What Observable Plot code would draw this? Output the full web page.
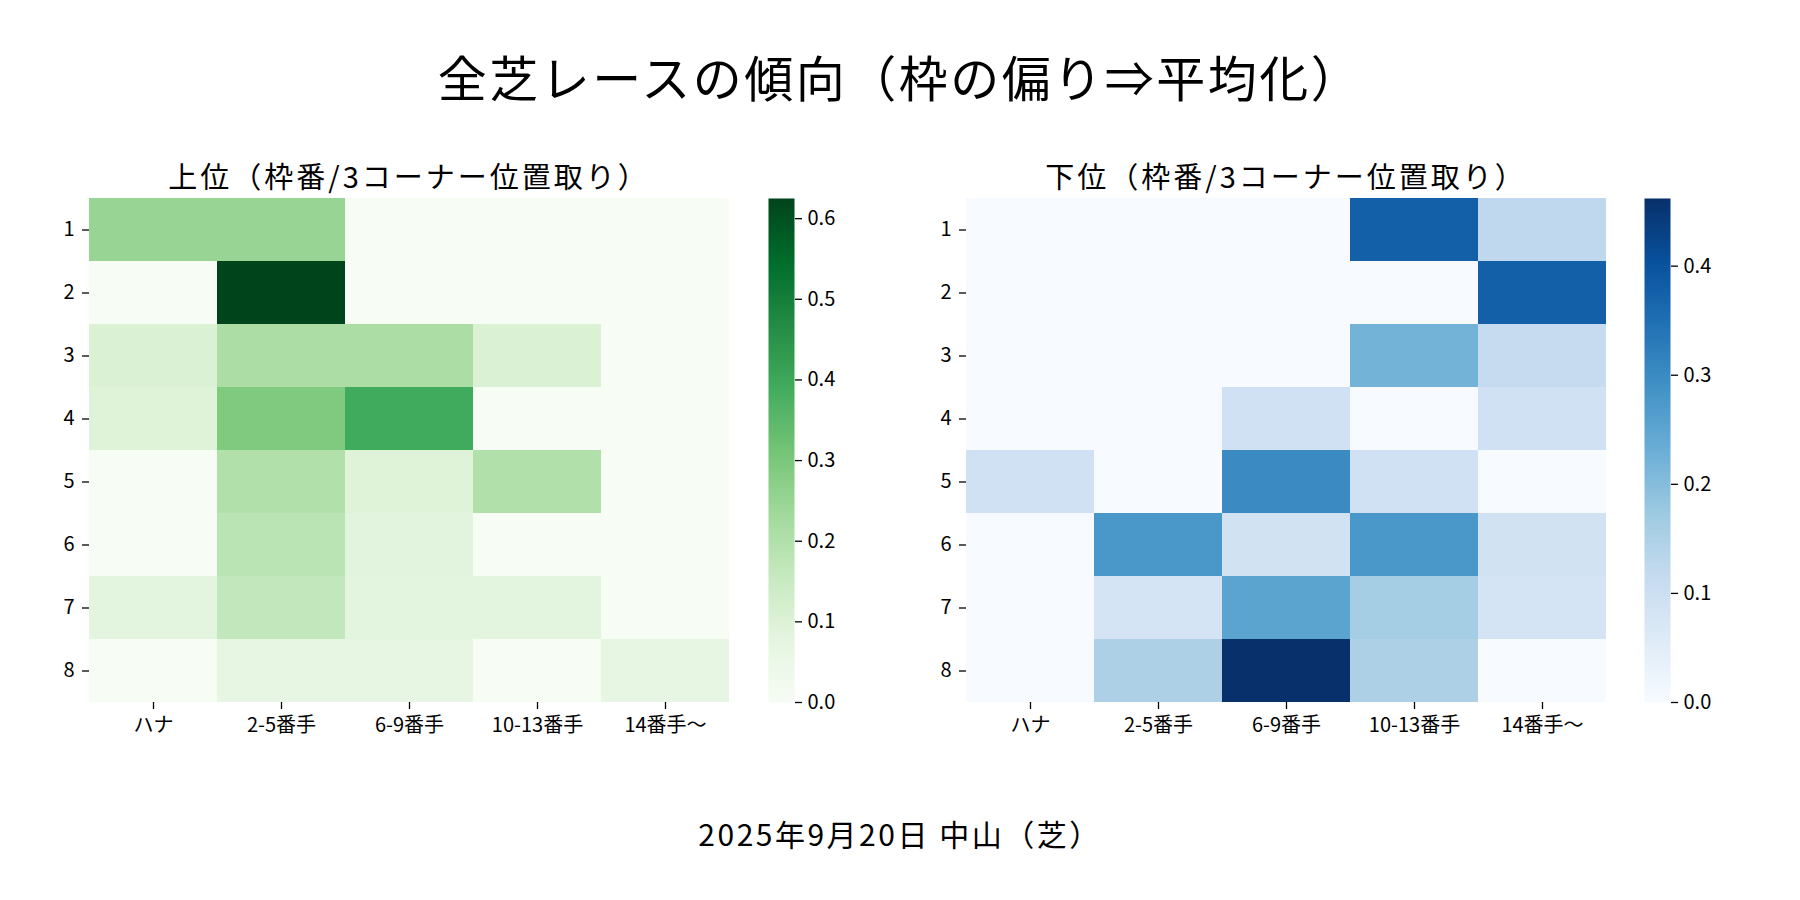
<!DOCTYPE html>
<html><head><meta charset="utf-8">
<script src="https://cdn.jsdelivr.net/npm/d3@7"></script>
<script src="https://cdn.jsdelivr.net/npm/@observablehq/plot@0.6"></script>
<style>
body{margin:0;background:#fff;font-family:"Noto Sans CJK JP",sans-serif;}
#root{position:relative;width:1800px;height:900px;overflow:hidden;background:#fff;}
.abs{position:absolute;}
.t{position:absolute;white-space:nowrap;transform:translate(-50%,-50%);color:#000;line-height:1;}
</style></head><body><div id="root"></div>
<script>
// ---- data ----
const positions = ["ハナ", "2-5番手", "6-9番手", "10-13番手", "14番手～"];
const wakus = [1, 2, 3, 4, 5, 6, 7, 8];
const topValues = [
  [0.25, 0.25, 0, 0, 0],
  [0, 0.625, 0, 0, 0],
  [0.107, 0.214, 0.214, 0.107, 0],
  [0.094, 0.292, 0.39, 0, 0],
  [0, 0.2, 0.094, 0.2, 0],
  [0, 0.183, 0.083, 0, 0],
  [0.08, 0.164, 0.08, 0.08, 0],
  [0, 0.07, 0.07, 0, 0.07]
];
const bottomValues = [
  [0, 0, 0, 0.377, 0.125],
  [0, 0, 0, 0, 0.377],
  [0, 0, 0, 0.221, 0.115],
  [0, 0, 0.094, 0, 0.094],
  [0.094, 0, 0.301, 0.094, 0],
  [0, 0.277, 0.09, 0.277, 0.09],
  [0, 0.082, 0.252, 0.163, 0.082],
  [0, 0.152, 0.462, 0.152, 0]
];
const topMax = 0.625;
const bottomMax = 0.462;
const topTicks = [0, 0.1, 0.2, 0.3, 0.4, 0.5, 0.6];
const bottomTicks = [0, 0.1, 0.2, 0.3, 0.4];
const mainTitle = "全芝レースの傾向（枠の偏り⇒平均化）";
const topTitle = "上位（枠番/3コーナー位置取り）";
const bottomTitle = "下位（枠番/3コーナー位置取り）";
const caption = "2025年9月20日 中山（芝）";

// ---- palettes (matplotlib Greens / Blues) ----
const greens = ["#f7fcf5","#e5f5e0","#c7e9c0","#a1d99b","#74c476","#41ab5d","#238b45","#006d2c","#00441b"];
const blues = ["#f7fbff","#deebf7","#c6dbef","#9ecae1","#6baed6","#4292c6","#2171b5","#08519c","#08306b"];

const FONT = '"Noto Sans CJK JP", "Noto Sans", sans-serif';
const root = document.getElementById("root");

function colorScale(range, max) {
  return {type: "linear", domain: range.map((_, i) => i / (range.length - 1) * max), range, interpolate: "rgb"};
}

function heat(values, range, max) {
  const data = wakus.flatMap((w, i) => positions.map((p, j) => ({waku: w, pos: p, value: values[i][j]})));
  return Plot.plot({
    width: 749, height: 620,
    marginLeft: 89, marginRight: 20, marginTop: 48, marginBottom: 68,
    x: {domain: positions, padding: 0, label: null},
    y: {domain: wakus, padding: 0, label: null},
    color: colorScale(range, max),
    style: {fontFamily: FONT, fontSize: "20px", color: "#000", background: "transparent"},
    marks: [
      Plot.cell(data, {x: "pos", y: "waku", fill: "value", inset: 0}),
      Plot.axisX({tickSize: 7, tickPadding: 8, strokeWidth: 1.3, fontSize: 20, label: null}),
      Plot.axisY({tickSize: 7, tickPadding: 8, strokeWidth: 1.3, fontSize: 20, label: null})
    ]
  });
}

function bar(range, max, ticks) {
  return Plot.plot({
    width: 100, height: 544,
    marginLeft: 0, marginRight: 74, marginTop: 20, marginBottom: 20,
    x: {domain: [0, 1], axis: null},
    y: {domain: [0, max], axis: null},
    color: colorScale(range, max),
    style: {fontFamily: FONT, fontSize: "20px", color: "#000", background: "transparent"},
    marks: [
      Plot.raster({fill: (x, y) => y, x1: 0, x2: 1, y1: 0, y2: max, width: 1, height: 400}),
      Plot.axisY({anchor: "right", ticks, tickFormat: ".1f", tickSize: 7, tickPadding: 6, strokeWidth: 1.3, fontSize: 20, label: null})
    ]
  });
}

function place(el, left, top) {
  el.classList.add("abs");
  el.style.left = left + "px";
  el.style.top = top + "px";
  root.appendChild(el);
}
function text(str, x, y, size, spacing) {
  const d = document.createElement("div");
  d.className = "t";
  d.textContent = str;
  d.style.left = x + "px";
  d.style.top = y + "px";
  d.style.fontSize = size + "px";
  d.style.letterSpacing = spacing + "px";
  d.style.fontFamily = FONT;
  root.appendChild(d);
}

place(heat(topValues, greens, topMax), 0, 150);
place(bar(greens, topMax, topTicks), 768, 178);
place(heat(bottomValues, blues, bottomMax), 877, 150);
place(bar(blues, bottomMax, bottomTicks), 1644, 178);

text(mainTitle, 900, 75, 49, 2.5);
text(topTitle, 409, 175, 29, 3);
text(bottomTitle, 1286, 175, 29, 3);
text(caption, 900, 833, 30, 2.5);
</script></body></html>
